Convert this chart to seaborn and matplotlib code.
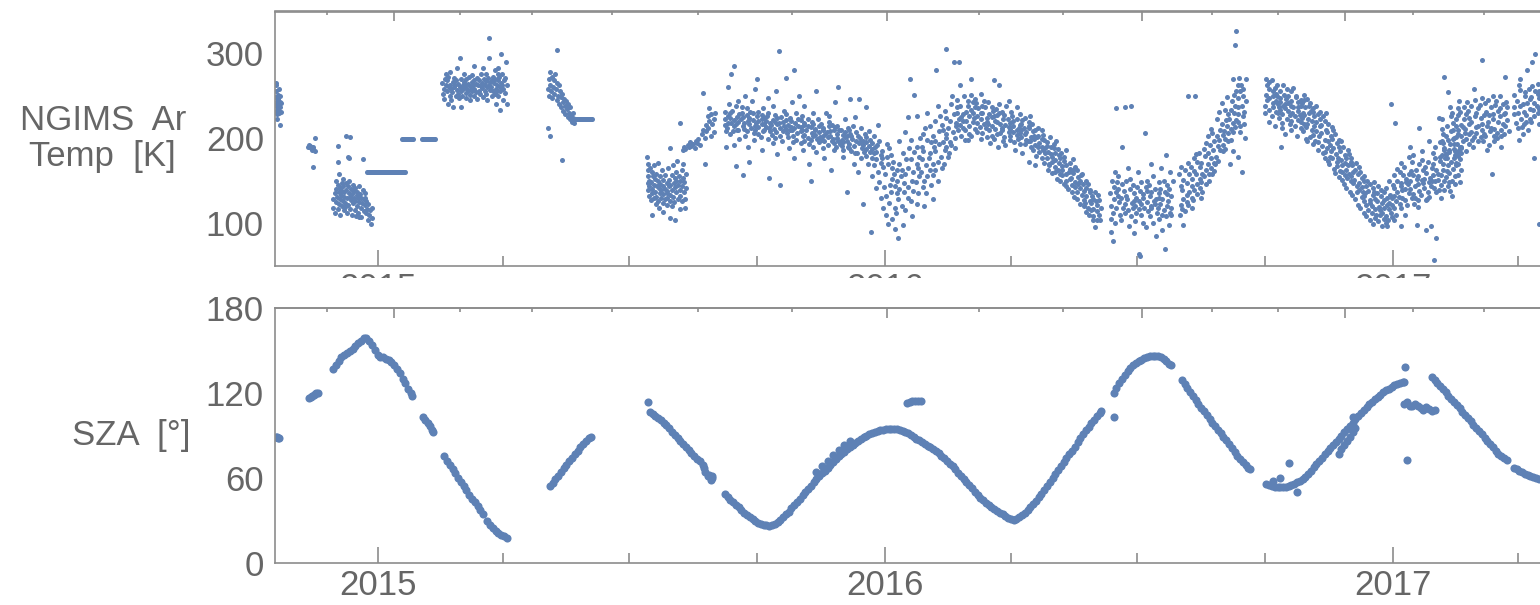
import matplotlib
matplotlib.use("Agg")
import numpy as np
import pandas as pd
import matplotlib.pyplot as plt
import matplotlib.dates as mdates
from matplotlib.ticker import NullFormatter
from matplotlib.patches import Rectangle
import seaborn as sns

# ---------------- data (day offsets are days since 2015-01-01) ----------------
EPOCH = "2015-01-01"

# NGIMS Ar temperature: rows of (day, temp, temp, ...); each row covers a short bin of days
ar_2014_oct = [(-73.5, 262, 248), (-73, 255, 240, 232), (-72.5, 265, 244, 228), (-72, 236, 251, 222),
               (-71.5, 246, 233), (-71, 240, 258, 229), (-70.5, 243, 215), (-70, 236, 249), (-69.5, 231, 241)]
ar_2014_nov = [(-50, 190), (-49.5, 192), (-49, 189), (-48.5, 191), (-48, 188), (-47.5, 190), (-47, 186),
               (-46.5, 189, 166), (-46, 187), (-45.5, 200), (-45, 185)]
ar_2014_dec = [(-32, 128), (-31.5, 118), (-31, 135), (-30.5, 112), (-30, 140, 125), (-29.5, 150),
               (-29, 131, 116, 191), (-28.5, 172, 145), (-28, 137, 122), (-27.5, 158), (-27, 128, 141),
               (-26.5, 110, 133), (-26, 147, 120), (-25.5, 138), (-25, 126, 152), (-24.5, 115, 143),
               (-24, 131, 136), (-23.5, 124), (-23, 147, 119), (-22.5, 202, 139), (-22, 129, 112),
               (-21.5, 144, 178), (-21, 135, 121), (-20.5, 176, 150), (-20, 201, 131), (-19.5, 117),
               (-19, 140, 127), (-18.5, 134), (-18, 110, 145), (-17.5, 123), (-17, 138, 130), (-16.5, 115),
               (-16, 141, 126), (-15.5, 108), (-15, 133, 120), (-14.5, 137), (-14, 129, 112), (-13.5, 144),
               (-13, 125, 107), (-12.5, 134), (-12, 118, 107), (-11.5, 130), (-11, 139, 123), (-10.5, 175),
               (-10, 128, 114), (-9.5, 135), (-9, 121, 129), (-8.5, 112), (-8, 126), (-7.5, 117),
               (-7, 104, 122), (-6, 110), (-5.5, 115), (-5, 99), (-4, 106), (-3.5, 118)]
ar_2015_jan_flat = [(-7.5, 160), (-6.8, 160), (-6.1, 160), (-5.4, 160), (-4.7, 160), (-4.0, 160), (-3.3, 160),
                    (-2.6, 160), (-1.9, 160), (-1.2, 160), (-0.5, 160), (0.2, 160), (0.9, 160), (1.6, 160),
                    (2.3, 160), (3.0, 160), (3.7, 160), (4.4, 160), (5.1, 160), (5.8, 160), (6.5, 160),
                    (7.2, 160), (7.9, 160), (8.6, 160), (9.3, 160), (10.0, 160), (10.7, 160), (11.4, 160),
                    (12.1, 160), (12.8, 160), (13.5, 160), (14.2, 160), (14.9, 160), (15.6, 160), (16.3, 160),
                    (17.0, 160), (17.7, 160), (18.4, 160), (19.1, 160), (19.8, 160)]
ar_2015_feb_flat = [(17.5, 199), (18.2, 199), (18.9, 199), (19.6, 199), (20.3, 199), (21.0, 199), (21.7, 199),
                    (22.4, 199), (23.1, 199), (23.8, 199), (24.5, 199), (25.2, 199),
                    (32.0, 199), (32.7, 199), (33.4, 199), (34.1, 199), (34.8, 199), (35.5, 199), (36.2, 199),
                    (36.9, 199), (37.6, 199), (38.3, 199), (39.0, 199), (39.7, 199), (40.4, 199), (41.1, 199)]
ar_2015_mar = [(47, 265, 252), (48, 270, 258, 246), (49, 262, 275), (50, 255, 268, 240), (51, 272, 260),
               (52, 250, 263, 278), (53, 258, 245), (54, 266, 254, 237), (55, 271, 260), (56, 249, 262),
               (57, 283, 257, 268), (58, 252, 264), (59, 294, 260, 247), (60, 270, 255, 236), (61, 262, 250),
               (62, 275, 258, 266), (63, 253, 262), (64, 247, 270, 259), (65, 264, 256), (66, 272, 251, 261),
               (67, 258, 245), (68, 266, 255, 274), (69, 250, 262), (70, 285, 258, 268), (71, 254, 264),
               (72, 262, 246, 271), (73, 256, 268), (74, 252, 276, 261), (75, 259, 265), (76, 270, 248, 282),
               (77, 262, 255), (78, 267, 252, 275), (79, 260, 245), (80, 294, 263, 271), (81, 318, 257, 266),
               (82, 249, 268, 260), (83, 272, 255), (84, 265, 280, 252), (85, 258, 270, 240),
               (86, 262, 275, 255), (87, 268, 250, 283), (88, 233, 260, 272), (89, 299, 265, 256),
               (90, 276, 262, 245), (91, 268, 258), (92, 271, 253, 290), (93, 262, 240)]
ar_2015_may = [(122.5, 258), (123, 270, 212), (123.5, 250), (124, 278, 202), (124.5, 263), (125, 255),
               (125.5, 272), (126, 247), (126.5, 260), (127, 268), (127.5, 252), (128, 275), (128.5, 258),
               (129, 304, 245), (129.5, 265), (130, 250), (130.5, 262), (131, 240), (131.5, 256), (132, 248),
               (132.5, 236), (133, 174, 252), (133.5, 243), (134, 232), (134.5, 246), (135, 238), (135.5, 228),
               (136, 244), (136.5, 234), (137, 225), (137.5, 240), (138, 230), (138.5, 222), (139, 236),
               (139.5, 226), (140, 219), (140.5, 230), (141, 224), (141.5, 218)]
ar_2015_may_flat = [(142, 222), (142.7, 222), (143.4, 222), (144.1, 222), (144.8, 222), (145.5, 222),
                    (146.2, 222), (146.9, 222), (147.6, 222), (148.3, 222), (149.0, 222), (149.7, 222),
                    (150.4, 222), (151.1, 222), (151.8, 222), (152.5, 222), (153.2, 222), (153.9, 222),
                    (154.6, 222)]
ar_2015_jul = [(194.5, 178, 162, 147), (195, 155, 139, 170), (196, 150, 132, 165, 143), (197, 160, 127, 148),
               (198, 110, 140, 155, 135), (199, 145, 129, 168), (200, 137, 152, 122), (201, 158, 131, 144),
               (202, 126, 141, 149, 171), (203, 135, 118, 155), (204, 146, 130, 139), (205, 162, 124, 151),
               (206, 134, 144, 113), (207, 128, 156, 140), (208, 147, 121, 135), (209, 138, 165, 129),
               (210, 188, 143, 126, 151), (211, 133, 106, 145), (212, 157, 139, 120), (213, 147, 131, 168),
               (214, 103, 142, 125, 153), (215, 136, 160, 149), (216, 128, 145, 173), (217, 139, 116, 155),
               (218, 218, 150, 132), (219, 144, 162, 126), (220, 153, 137, 170), (221, 128, 148, 118),
               (222, 158, 141)]
ar_2015_aug = [(220, 186), (221, 190), (222, 187), (223, 192), (224, 189), (225, 195), (226, 191), (227, 193),
               (228, 188), (229, 196), (230, 194), (231, 199), (232, 192), (233, 205), (234, 253, 210),
               (235, 200), (236, 169, 215), (237, 208), (238, 226, 212), (239, 235, 220), (240, 203, 228),
               (241, 216), (242, 222, 207), (243, 230)]
ar_2015_autumn = [
    (250, 222, 231, 208, 215, 190), (252, 226, 212, 240, 218, 260), (254, 218, 229, 205, 224, 276),
    (256, 232, 214, 285, 221, 208, 192), (258, 225, 216, 238, 209, 167), (260, 219, 228, 210, 244, 199),
    (262, 230, 214, 222, 156, 236), (264, 211, 225, 218, 250, 203), (266, 227, 208, 220, 235, 190),
    (268, 216, 231, 212, 224, 172), (270, 221, 206, 229, 244, 198), (272, 214, 226, 210, 218, 258),
    (274, 269, 220, 205, 231, 213), (276, 217, 227, 201, 222, 186), (278, 210, 224, 235, 208, 216),
    (280, 226, 213, 199, 220, 247), (282, 153, 218, 208, 229, 212), (284, 221, 204, 215, 238, 194),
    (286, 211, 227, 200, 219, 256), (288, 302, 216, 207, 224, 181), (290, 145, 212, 225, 203, 218),
    (292, 219, 208, 232, 214, 197), (294, 271, 206, 221, 211, 228), (296, 215, 201, 224, 209, 188),
    (298, 209, 220, 195, 242, 213), (300, 280, 212, 203, 218, 176), (302, 206, 223, 198, 214, 230),
    (304, 213, 194, 208, 221, 250), (306, 202, 218, 210, 186, 226), (308, 209, 197, 215, 204, 238),
    (310, 214, 200, 222, 193, 170), (312, 149, 206, 213, 198, 219), (314, 203, 216, 190, 209, 229),
    (316, 256, 199, 211, 204, 184), (318, 207, 195, 214, 201, 222), (320, 198, 210, 188, 216, 203),
    (322, 212, 196, 205, 230, 177), (324, 201, 214, 192, 207, 219), (326, 196, 208, 163, 203, 226),
    (328, 209, 194, 215, 199, 186), (330, 200, 213, 189, 205, 242), (332, 260, 197, 209, 193, 214),
    (334, 204, 191, 210, 198, 178), (336, 195, 207, 186, 201, 223), (338, 202, 190, 212, 137, 196),
    (340, 246, 193, 205, 188, 210), (342, 199, 185, 203, 214, 170), (344, 191, 207, 196, 183, 225),
    (346, 246, 194, 182, 203, 160), (348, 188, 200, 176, 195, 212), (350, 122, 192, 184, 205, 197),
    (352, 195, 179, 201, 187, 237), (354, 184, 198, 170, 191, 208), (356, 89, 187, 176, 194, 155),
    (358, 190, 168, 182, 203, 141), (360, 175, 192, 160, 184, 215), (362, 180, 148, 171, 196, 130),
    (364, 166, 185, 142, 176, 118), (366, 158, 178, 132, 193, 110), (368, 170, 145, 188, 124, 99),
    (370, 152, 180, 136, 165, 105), (372, 143, 172, 118, 158, 93), (374, 82, 162, 135, 150, 112),
    (376, 170, 128, 155, 196, 140), (378, 147, 183, 120, 162, 98), (380, 158, 136, 175, 207, 115),
    (382, 165, 142, 188, 130, 225), (384, 269, 175, 150, 198, 126), (386, 251, 160, 184, 138, 108),
    (388, 226, 170, 148, 190, 122), (390, 178, 155, 200, 135, 165)]
ar_2016_spring = [
    (392, 190, 160, 142, 205, 175), (394, 168, 185, 120, 150, 212), (396, 176, 155, 198, 135, 230),
    (398, 182, 163, 214, 145, 195), (400, 170, 190, 128, 203, 156), (402, 280, 185, 162, 220, 197),
    (404, 193, 172, 208, 150, 238), (406, 178, 215, 195, 165, 226), (408, 200, 186, 232, 170, 210),
    (410, 305, 205, 190, 224, 178), (412, 212, 195, 240, 183, 220), (414, 290, 207, 228, 192, 250),
    (416, 218, 200, 236, 214, 188), (418, 290, 222, 209, 245, 230), (420, 215, 238, 225, 203, 262),
    (422, 228, 212, 250, 220, 198), (424, 231, 209, 244, 220, 198), (426, 214, 238, 226, 270, 205),
    (428, 242, 219, 203, 233, 251), (430, 224, 211, 246, 229, 237), (432, 207, 235, 218, 241, 226),
    (434, 230, 252, 213, 222, 199), (436, 217, 238, 206, 229, 244), (438, 236, 212, 224, 201, 219),
    (440, 209, 228, 243, 216, 194), (442, 225, 203, 232, 214, 236), (444, 268, 211, 226, 199, 220),
    (446, 219, 234, 205, 227, 190), (448, 206, 229, 217, 240, 262), (450, 231, 212, 196, 222, 209),
    (452, 215, 201, 227, 238, 192), (454, 223, 207, 244, 213, 198), (456, 203, 226, 211, 231, 218),
    (458, 220, 195, 214, 207, 186), (460, 210, 236, 199, 222, 204), (462, 193, 215, 228, 206, 212),
    (464, 216, 201, 221, 182, 209), (466, 205, 224, 193, 212, 198), (468, 197, 214, 207, 172, 219),
    (470, 212, 190, 226, 201, 196), (472, 186, 208, 199, 216, 203), (474, 201, 179, 210, 192, 168),
    (476, 194, 212, 184, 203, 189), (478, 177, 199, 209, 190, 186), (480, 198, 171, 188, 204, 182),
    (482, 184, 195, 163, 191, 176), (484, 170, 190, 201, 181, 168), (486, 188, 159, 178, 193, 172),
    (488, 166, 183, 196, 174, 160), (490, 180, 152, 171, 187, 163), (492, 158, 176, 167, 182, 149),
    (494, 173, 146, 162, 178, 157), (496, 150, 168, 186, 158, 143), (498, 164, 140, 171, 152, 160),
    (500, 145, 162, 175, 137, 153), (502, 159, 131, 148, 166, 142), (504, 137, 154, 128, 162, 146),
    (506, 150, 122, 141, 156, 133), (508, 127, 146, 158, 120, 138), (510, 141, 113, 132, 150, 124),
    (512, 118, 137, 126, 146, 110), (514, 132, 104, 124, 139, 115), (516, 95, 128, 117, 136, 108),
    (518, 121, 133, 103, 126, 114), (520, 110, 127, 118, 104)]
ar_2016_summer = [
    (528, 120, 135, 150, 105, 90), (530, 128, 142, 112, 160, 79), (532, 235, 118, 136, 148, 100),
    (534, 125, 140, 110, 155, 132), (536, 130, 146, 118, 190, 104), (538, 138, 122, 150, 112, 236),
    (540, 115, 132, 128, 165, 96), (542, 238, 124, 140, 108, 152), (544, 135, 118, 126, 145, 88),
    (546, 112, 130, 142, 102, 120), (548, 63, 126, 138, 116, 160), (550, 61, 122, 134, 110, 148),
    (552, 130, 118, 142, 206, 100), (554, 125, 138, 114, 150, 95), (556, 132, 120, 145, 108, 170),
    (558, 118, 136, 126, 100, 155), (560, 128, 112, 140, 122, 85), (562, 135, 118, 130, 148, 105),
    (564, 122, 140, 110, 165, 92), (566, 70, 128, 115, 136, 150), (568, 120, 134, 108, 145, 180),
    (570, 126, 112, 140, 160, 98), (572, 118, 132, 150, 110)]
ar_2016_aug = [
    (578, 144, 121, 158, 109, 166), (580, 128, 151, 117, 139, 98), (582, 147, 133, 162, 114, 125),
    (584, 136, 158, 121, 171, 250), (586, 152, 129, 143, 166, 118), (588, 250, 139, 161, 127, 176),
    (590, 158, 134, 172, 146, 181), (592, 141, 166, 152, 183, 129), (594, 171, 148, 187, 158, 136),
    (596, 155, 179, 163, 194, 146), (598, 182, 158, 169, 203, 150), (600, 165, 192, 177, 211, 158),
    (602, 197, 171, 186, 161, 206), (604, 178, 203, 191, 222, 169), (606, 209, 186, 198, 231, 173),
    (608, 192, 216, 204, 185, 241), (610, 221, 199, 233, 208, 187), (612, 206, 228, 214, 248, 196),
    (614, 233, 211, 244, 198, 222, 170), (616, 218, 251, 229, 207, 270, 185), (618, 309, 238, 221, 255, 213),
    (619, 326, 247, 228, 263, 178), (620, 236, 255, 219, 271, 207), (622, 249, 226, 263, 238, 214, 160),
    (624, 231, 258, 244, 270, 216, 200)]
ar_2016_autumn = [
    (640, 262, 238, 251, 229, 270, 245), (642, 247, 233, 258, 219, 266), (644, 241, 255, 226, 268, 236, 249),
    (646, 259, 231, 244, 214, 252), (648, 237, 262, 224, 249, 240, 230), (650, 243, 218, 255, 190, 233, 247),
    (652, 228, 251, 238, 212, 262), (654, 246, 223, 235, 258, 205, 240), (656, 232, 249, 216, 241, 227),
    (658, 255, 220, 238, 244, 209, 229), (660, 236, 214, 248, 226, 259), (662, 221, 243, 232, 203, 250, 237),
    (664, 245, 227, 212, 238, 219), (666, 230, 251, 208, 224, 241, 216), (668, 213, 236, 227, 245, 199),
    (670, 238, 217, 229, 196, 246, 222), (672, 209, 232, 220, 241, 201), (674, 226, 204, 235, 214, 193, 231),
    (676, 219, 197, 228, 208, 238), (678, 202, 223, 186, 214, 231, 195), (680, 215, 191, 206, 226, 182),
    (682, 198, 220, 184, 209, 176, 229), (684, 207, 188, 216, 173, 196), (686, 185, 203, 170, 213, 192, 178),
    (688, 199, 176, 210, 164, 188), (690, 172, 194, 181, 159, 205, 167), (692, 189, 161, 177, 198, 154),
    (694, 168, 185, 151, 174, 196, 160), (696, 180, 157, 171, 146, 189), (698, 162, 176, 141, 168, 186, 153),
    (700, 172, 149, 158, 137, 181), (702, 155, 168, 133, 176, 147, 160), (704, 143, 163, 128, 151, 171),
    (706, 158, 136, 147, 121, 166, 139), (708, 131, 153, 142, 118, 160), (710, 149, 126, 137, 112, 155, 132),
    (712, 121, 143, 108, 135, 150), (714, 138, 115, 127, 104, 146, 123), (716, 112, 133, 120, 99, 141),
    (718, 128, 106, 137, 117, 148, 110), (720, 119, 135, 102, 126, 143), (722, 109, 124, 97, 132, 115, 139),
    (724, 127, 105, 118, 136, 112), (726, 100, 121, 130, 108, 96, 141), (728, 116, 133, 104, 124, 150),
    (730, 240, 121, 107, 129, 145, 112)]
ar_2017_winter = [
    (732, 141, 118, 156, 218, 103, 132), (734, 126, 150, 109, 137, 164), (736, 147, 122, 160, 131, 96, 171),
    (738, 118, 144, 129, 157, 139), (740, 152, 127, 166, 110, 140, 148), (742, 135, 158, 121, 146, 178),
    (744, 161, 129, 149, 172, 140, 190), (746, 143, 122, 157, 134, 180), (748, 130, 163, 146, 119, 98, 152),
    (750, 155, 138, 169, 127, 212), (752, 147, 162, 133, 174, 151, 185), (754, 127, 152, 141, 166, 92),
    (756, 159, 137, 172, 148, 128, 196), (758, 144, 165, 153, 131, 97), (760, 170, 141, 157, 183, 56, 150),
    (762, 136, 162, 149, 176, 82, 190), (764, 158, 173, 139, 151, 224), (766, 145, 169, 180, 130, 156, 195),
    (768, 163, 139, 176, 150, 188), (770, 154, 181, 143, 168, 198, 161), (772, 172, 148, 186, 159, 138),
    (774, 150, 177, 164, 193, 132, 200), (776, 168, 155, 183, 146, 171), (778, 157, 186, 169, 179, 205),
    (780, 175, 148, 190, 162, 183)]
ar_2017_spring = [
    (766, 197, 211, 178, 222), (768, 186, 205, 194, 272), (770, 214, 181, 203, 254, 176),
    (772, 193, 226, 208, 184, 236), (774, 218, 199, 187, 210, 229), (776, 201, 223, 185, 214, 180),
    (778, 227, 193, 209, 235, 244), (780, 190, 215, 231, 202, 188), (782, 222, 206, 237, 196, 213),
    (784, 199, 228, 211, 243, 185), (786, 232, 216, 193, 224, 205), (788, 207, 238, 219, 198, 190),
    (790, 226, 201, 245, 213, 258), (792, 214, 235, 197, 229, 206), (794, 239, 210, 224, 201, 292),
    (796, 205, 227, 247, 216, 196), (798, 231, 214, 202, 241, 186), (800, 219, 245, 208, 227, 192),
    (802, 236, 212, 228, 250, 158), (804, 211, 239, 223, 203, 196), (806, 244, 219, 232, 206, 200),
    (808, 226, 210, 249, 235, 190), (810, 217, 240, 228, 205, 202), (812, 272, 229, 214, 243),
    (814, 236, 221, 208),
    (819, 236, 218, 251, 228), (821, 244, 212, 229, 262, 198), (823, 222, 257, 238, 213, 270),
    (825, 249, 231, 216, 240, 205), (827, 227, 254, 241, 219, 280), (829, 246, 223, 258, 234, 210),
    (831, 233, 261, 219, 248, 290), (833, 299, 241, 226, 255, 176), (835, 229, 252, 238, 217, 264),
    (837, 256, 234, 247, 225, 99), (839, 242, 263, 228, 251)]

# Solar zenith angle: (day, SZA) pairs
sza_2014_oct = [(-73.3, 89), (-72.6, 88.6), (-71.9, 88.3), (-71.2, 88.0)]
sza_2014_nov = [(-49, 116.5), (-48, 117.2), (-47, 118), (-46, 118.7), (-45, 119.2), (-44, 119.6), (-43.2, 120)]
sza_2014_dec = [(-32, 137), (-30, 140), (-28, 142.5), (-26, 145), (-24, 146.5), (-22, 148), (-20, 149.5),
                (-18, 151), (-16, 153), (-14, 155), (-12, 157), (-10, 158.5), (-8, 158.5), (-6, 157),
                (-4, 154), (-2, 150.5), (0, 147), (2, 145.5), (4, 145), (6, 144), (8, 143.5), (10, 142),
                (12, 140), (14, 137), (16, 134), (18, 130), (20, 127), (22, 123), (24, 120), (25, 118)]
sza_2015_feb = [(33, 103), (34.5, 101), (36, 99), (37.5, 96.5), (39, 94), (40.3, 92)]
sza_2015_mar = [(48, 75), (50, 72), (52, 69), (54, 66), (56, 63), (58, 60), (60, 57), (62, 54), (64, 51),
                (66, 48), (68, 45), (70, 42.5), (72, 40), (74, 37), (76, 34)]
sza_2015_apr = [(79, 29), (81, 26.5), (83, 24.5), (85, 22.5), (87, 21), (89, 19.5), (91, 18.5), (93, 17.5)]
sza_2015_may = [(124, 54), (126, 56.5), (128, 59), (130, 61.5), (132, 64), (134, 66.5), (136, 69),
                (138, 71.5), (140, 74), (142, 76.5), (144, 79), (146, 81.5), (148, 84), (150, 86),
                (152, 88), (153.5, 89)]
sza_2015_jul = [(195, 113.5), (196, 106.5), (198, 105), (200, 103.5), (202, 102), (204, 100.5), (206, 98.5),
                (208, 97), (210, 95), (212, 92.5), (214, 90), (216, 88), (218, 86), (220, 83.5), (222, 81.5),
                (224, 79.5), (226, 77.5), (228, 75.5), (230, 73.5), (232, 71.5), (234, 69), (235, 66.5),
                (236, 64), (238, 61), (239, 62), (240, 58), (240.5, 59.5), (241, 61)]
sza_2015_autumn = [(250, 48.5), (252, 46.5), (254, 44.5), (256, 42.5), (258, 41), (260, 39), (262, 37),
                   (264, 35), (266, 33.5), (268, 32), (270, 30.5), (272, 29.3), (274, 28.2), (276, 27.3),
                   (278, 26.6), (280, 26.2), (282, 26.1), (284, 26.4), (286, 27.2), (288, 28.5), (290, 30.2),
                   (292, 32), (294, 34), (296, 36), (298, 38.2), (300, 40.5), (302, 42.8), (304, 45),
                   (306, 47.5), (308, 49.8), (310, 52), (312, 54.3), (314, 56.6), (316, 58.8), (318, 61),
                   (320, 63), (322, 65), (324, 67), (326, 69), (328, 71), (330, 73), (332, 75), (334, 76.8),
                   (336, 78.5), (338, 80.2), (340, 81.8), (342, 83.3), (344, 84.8), (346, 86.2), (348, 87.5),
                   (350, 88.7), (352, 89.8), (354, 90.8), (356, 91.6), (358, 92.4), (360, 93), (362, 93.5),
                   (364, 93.9), (366, 94.2), (368, 94.4), (370, 94.5), (372, 94.4), (374, 94.1), (376, 93.6),
                   (378, 93), (380, 92.2), (382, 91.3), (384, 90.2), (386, 89), (388, 87.7), (390, 86.3)]
sza_2015_side = [(316, 64), (320, 68), (324, 72), (328, 76), (332, 79.5), (336, 83), (340, 86)]
sza_2016_jan = [(381, 113), (383, 113.5), (385, 114), (387, 114), (389, 114.5), (391, 114)]
sza_2016_spring = [(392, 85), (394, 84), (396, 82.7), (398, 81.5), (400, 80), (402, 78.6), (404, 77.2),
                   (406, 75.5), (408, 73.8), (410, 72), (412, 70), (414, 68), (416, 65.8), (418, 63.5),
                   (420, 61.3), (422, 59), (424, 56.8), (426, 54.6), (428, 52.4), (430, 50), (432, 47.8),
                   (434, 45.8), (436, 44), (438, 42.4), (440, 41), (442, 39.5), (444, 38), (446, 36.6),
                   (448, 35.3), (450, 34), (452, 32.8), (454, 31.7), (456, 30.8), (458, 30.4), (460, 31),
                   (462, 32.2), (464, 33.6), (466, 35.2), (468, 37), (470, 39), (472, 41.3), (474, 43.6),
                   (476, 46), (478, 48.5), (480, 51.2), (482, 54), (484, 56.8), (486, 59.6), (488, 62.4),
                   (490, 65.2), (492, 68), (494, 70.8), (496, 73.6), (498, 76.4), (500, 79.2), (502, 82),
                   (504, 85), (506, 88), (508, 90.8), (510, 93.5), (512, 96), (514, 98.5), (516, 101),
                   (518, 103.5), (520, 106), (521, 107)]
sza_2016_summer = [(530.5, 102.7), (530, 120), (532, 123.5), (534, 127), (536, 130), (538, 132.8), (540, 135.3),
                   (542, 137.5), (544, 139.4), (546, 141), (548, 142.4), (550, 143.5), (552, 144.4),
                   (554, 145.2), (556, 145.8), (558, 146.2), (560, 146.2), (562, 145.8), (564, 145),
                   (566, 144), (568, 142.5), (570, 140.5), (571, 139.5)]
sza_2016_aug = [(579, 129), (581, 126), (583, 123.3), (585, 120.5), (587, 117.8), (589, 115), (591, 112.3),
                (593, 109.6), (595, 107), (597, 104.3), (599, 101.7), (601, 99), (603, 96.5), (605, 94),
                (607, 91.6), (609, 89), (611, 86.3), (613, 83.6), (615, 81), (617, 78.3), (619, 75.6),
                (621, 73), (623, 71), (625, 69), (627, 67), (628, 66)]
sza_2016_autumn = [(640, 55.5), (642, 54.5), (644, 54), (646, 53.6), (648, 53.3), (650, 53.2), (652, 53.3),
                   (654, 53.6), (656, 54.1), (658, 54.8), (660, 55.6), (662, 56.6), (664, 57.6), (666, 59),
                   (668, 60.8), (670, 62.8), (672, 65), (674, 67.3), (676, 69.7), (678, 72), (680, 74.2),
                   (682, 76.4), (684, 78.6), (686, 80.8), (688, 83), (690, 85.2), (692, 87.5), (694, 89.8),
                   (696, 92.1), (698, 94.4), (700, 96.7), (702, 99), (704, 101.3), (706, 103.5),
                   (708, 105.7), (710, 107.8), (712, 109.8), (714, 111.8), (716, 113.7), (718, 115.5),
                   (720, 117.2), (722, 118.8), (724, 120.3), (726, 121.7), (728, 123), (730, 124.2),
                   (732, 125.3), (734, 126.2), (736, 127), (738, 127.6), (739, 128)]
sza_2016_side = [(645, 57.6), (650, 59.7), (656, 70.3), (662, 50), (692, 77), (694, 80), (696, 83),
                 (698, 86), (700, 89), (702, 92), (704, 95), (702, 102.7)]
sza_2017_jan = [(740, 138), (741, 72.7), (739, 112), (741.5, 113.5), (743, 111), (745, 110.5), (747, 112),
                (749, 111), (751, 109), (753, 108), (755, 110), (757, 108.5), (759, 107.5), (761, 108)]
sza_2017_spring = [(759, 131.5), (761, 129.3), (763, 127), (765, 124.8), (767, 122.6), (769, 120.3),
                   (771, 118), (773, 115.8), (775, 113.6), (777, 111.3), (779, 109), (781, 106.7),
                   (783, 104.4), (785, 102.1), (787, 99.8), (789, 97.5), (791, 95.2), (793, 93),
                   (795, 90.7), (797, 88.4), (799, 86), (801, 83.7), (803, 81.4), (805, 79), (807, 77),
                   (809, 75.3), (811, 73.8), (813, 72.5),
                   (818, 67), (820, 65.8), (822, 64.8), (824, 63.8), (826, 62.8), (828, 62), (830, 61.2),
                   (832, 60.5), (834, 59.9), (836, 59.4), (838, 59), (840, 58.6), (842, 58.3)]

# Top-frame (Mars season) tick positions, days since 2015-01-01
season_major_days = [11.9, 366.8, 550.4, 696.5]
season_minor_days = [-36.4, 59.4, 111.2, 168.8, 230.7, 298.4, 433.0, 493.5, 600.8, 648.3, 745.5, 796.6]

x_start_day, x_end_day = -73.8, 894.5
temp_range = (50, 349)
sza_range = (0, 180)
temp_ticks = [100, 200, 300]
sza_ticks = [0, 60, 120, 180]

# ---------------- build frames ----------------
def rows_to_frame(groups):
    """groups: list of (rows, bin_width). Values of one row were read within a bin of days
    around the row's day; they are placed inside that bin (deterministic, value-keyed offset)."""
    d, v = [], []
    for rows, width in groups:
        for row in rows:
            for i, val in enumerate(row[1:]):
                frac = (val * 0.7548776662 + i * 0.3819660113) % 1.0
                d.append(row[0] + width * (frac - 0.5))
                v.append(val)
    return pd.DataFrame({"date": pd.Timestamp(EPOCH) + pd.to_timedelta(d, unit="D"), "val": v})

temp_df = rows_to_frame([(ar_2014_oct, 0.5), (ar_2014_nov, 0.5), (ar_2014_dec, 0.5), (ar_2015_jan_flat, 0),
                         (ar_2015_feb_flat, 0), (ar_2015_mar, 1), (ar_2015_may, 0.5), (ar_2015_may_flat, 0),
                         (ar_2015_jul, 1), (ar_2015_aug, 1), (ar_2015_autumn, 2), (ar_2016_spring, 2),
                         (ar_2016_summer, 2), (ar_2016_aug, 2), (ar_2016_autumn, 2), (ar_2017_winter, 2),
                         (ar_2017_spring, 2)])
sza_df = rows_to_frame([(g, 0) for g in
                        [sza_2014_oct, sza_2014_nov, sza_2014_dec, sza_2015_feb, sza_2015_mar,
                         sza_2015_apr, sza_2015_may, sza_2015_jul, sza_2015_autumn, sza_2015_side,
                         sza_2016_jan, sza_2016_spring, sza_2016_summer, sza_2016_aug,
                         sza_2016_autumn, sza_2016_side, sza_2017_jan, sza_2017_spring]])

def to_num(days):
    return mdates.date2num(pd.Timestamp(EPOCH) + pd.to_timedelta(days, unit="D"))

# ---------------- style ----------------
sns.set_theme(style="white")
plt.rcParams['font.family'] = ['Liberation Sans', 'DejaVu Sans']
DOT = "#5e81b5"
FRAME = "#8c8c8c"
TEXT = "#666666"
FS = 25

W, H = 1540, 605
fig = plt.figure(figsize=(W / 100, H / 100), dpi=100)
fig.patch.set_facecolor("white")

def px_axes(left, top, right, bottom):
    return fig.add_axes([left / W, 1 - bottom / H, (right - left) / W, (bottom - top) / H])

ax1 = px_axes(275, 11.5, 1620, 265.5)
ax2 = px_axes(275, 308, 1620, 562.5)

sns.scatterplot(data=temp_df, x="date", y="val", ax=ax1, s=13, color=DOT, linewidth=0, legend=False)
sns.scatterplot(data=sza_df, x="date", y="val", ax=ax2, s=34, color=DOT, linewidth=0, legend=False)

for ax, yl, yt in [(ax1, temp_range, temp_ticks), (ax2, sza_range, sza_ticks)]:
    ax.set_xlim(to_num(x_start_day), to_num(x_end_day))
    ax.set_ylim(*yl)
    ax.set_yticks(yt)
    ax.set_xlabel("")
    ax.set_ylabel("")
    ax.xaxis.set_major_locator(mdates.YearLocator())
    ax.xaxis.set_major_formatter(mdates.DateFormatter("%Y"))
    ax.xaxis.set_minor_locator(mdates.MonthLocator(bymonth=[4, 7, 10]))
    for side in ["left", "bottom", "top"]:
        ax.spines[side].set_visible(True)
        ax.spines[side].set_color(FRAME)
        ax.spines[side].set_linewidth(1.2)
    ax.spines["right"].set_visible(False)
    ax.tick_params(axis="x", which="major", direction="in", length=11.5, width=1.2, color=FRAME,
                   labelsize=FS, labelcolor=TEXT, pad=5, top=False, bottom=True)
    ax.tick_params(axis="x", which="minor", direction="in", length=7, width=1.2, color=FRAME,
                   top=False, bottom=True)
    ax.tick_params(axis="y", which="major", direction="in", length=5.5, width=1.2, color=FRAME,
                   labelsize=FS, labelcolor=TEXT, pad=8, right=False)
    ax.grid(False)
    sec = ax.secondary_xaxis("top")
    sec.set_xticks(to_num(season_major_days))
    sec.set_xticks(to_num(season_minor_days), minor=True)
    sec.xaxis.set_major_formatter(NullFormatter())
    sec.xaxis.set_minor_formatter(NullFormatter())
    sec.spines["top"].set_color(FRAME)
    sec.spines["top"].set_linewidth(1.2)
    sec.tick_params(which="major", direction="in", length=7, width=1.2, color=FRAME)
    sec.tick_params(which="minor", direction="in", length=3, width=1.2, color=FRAME)

# top panel's date labels sit behind the lower panel; only their tops peek out
fig.add_artist(Rectangle((276 / W, 1 - 306 / H), 1, (306 - 277.5) / H, transform=fig.transFigure,
                         facecolor="white", edgecolor="none", zorder=5))

fig.text(186 / W, 1 - 138.5 / H, "NGIMS  Ar\nTemp  [K]", ha="right", va="center",
         multialignment="center", fontsize=FS, color=TEXT, linespacing=1.15)
fig.text(190 / W, 1 - 435 / H, "SZA  [°]", ha="right", va="center", fontsize=FS, color=TEXT)

fig.savefig("out.png", dpi=100, facecolor="white")
